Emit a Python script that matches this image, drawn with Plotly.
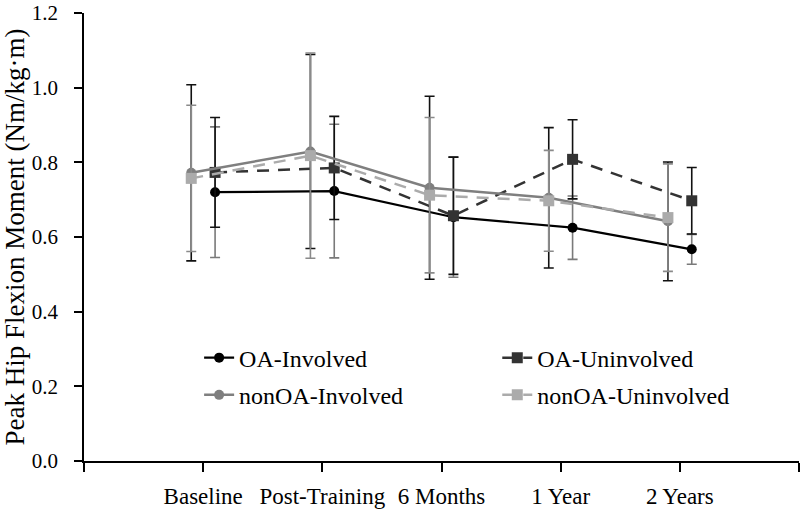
import plotly.graph_objects as go

categories = ["Baseline", "Post-Training", "6 Months", "1 Year", "2 Years"]
cat_pos = [1, 2, 3, 4, 5]

oa_inv_mean = [0.720, 0.723, 0.653, 0.625, 0.567]
oa_inv_sd = [0.175, 0.179, 0.161, 0.085, 0.040]

oa_uninv_mean = [0.773, 0.785, 0.657, 0.808, 0.697]
oa_uninv_sd = [0.147, 0.138, 0.157, 0.106, 0.089]

non_inv_mean = [0.772, 0.829, 0.732, 0.705, 0.642]
non_inv_sd = [0.236, 0.260, 0.245, 0.188, 0.159]

non_uninv_mean = [0.757, 0.818, 0.712, 0.697, 0.652]
non_uninv_sd = [0.196, 0.275, 0.208, 0.135, 0.144]

oa_offset = 0.1
non_offset = -0.1

FONT = "Liberation Serif, Times New Roman, serif"

oa_x = [p + oa_offset for p in cat_pos]
non_x = [p + non_offset for p in cat_pos]

fig = go.Figure()

def add(name, x, y, sd, color, dash, symbol, msize, ebcolor, lw, legend, group):
    fig.add_trace(go.Scatter(
        x=x, y=y, name=name, mode="lines+markers",
        line=dict(color=color, width=lw, dash=dash),
        marker=dict(symbol=symbol, size=msize, color=color),
        error_y=dict(type="data", array=sd, visible=True, color=ebcolor,
                     thickness=1.6, width=5),
        legend=legend, legendgroup=group,
    ))

add("OA-Involved", oa_x, oa_inv_mean, oa_inv_sd, "#000000", "solid",
    "circle", 10, "#7a7a7a", 2.2, "legend", "a")
add("OA-Uninvolved", oa_x, oa_uninv_mean, oa_uninv_sd, "#333333", "12px,9px",
    "square", 11, "#111111", 2.5, "legend2", "b")
add("nonOA-Involved", non_x, non_inv_mean, non_inv_sd, "#7f7f7f", "solid",
    "circle", 10, "#111111", 2.5, "legend", "c")
add("nonOA-Uninvolved", non_x, non_uninv_mean, non_uninv_sd, "#ababab", "12px,9px",
    "square", 11, "#8a8a8a", 2.5, "legend2", "d")

legend_common = dict(
    orientation="v", xanchor="left", yanchor="top",
    bgcolor="rgba(0,0,0,0)", tracegroupgap=3,
    font=dict(family=FONT, size=24, color="#000"),
)

fig.update_layout(
    width=800, height=510,
    margin=dict(l=84, r=1, t=8, b=48),
    paper_bgcolor="white", plot_bgcolor="white",
    font=dict(family=FONT, size=21, color="#000"),
    legend=dict(x=0.161, y=0.28, **legend_common),
    legend2=dict(x=0.578, y=0.28, **legend_common),
    xaxis=dict(
        range=[0, 6], tickvals=[0, 1, 2, 3, 4, 5, 6],
        ticktext=[""] + categories + [""],
        showline=True, linecolor="#000", linewidth=1.5,
        ticks="outside", ticklen=9, tickwidth=1.5, tickcolor="#000",
        showgrid=False, zeroline=False,
        ticklabelstandoff=5,
        tickfont=dict(family=FONT, size=23, color="#000"),
    ),
    yaxis=dict(
        range=[0, 1.2], tickvals=[0, 0.2, 0.4, 0.6, 0.8, 1.0, 1.2],
        tickformat=".1f",
        showline=True, linecolor="#000", linewidth=1.5,
        ticks="outside", ticklen=8, tickwidth=1.5, tickcolor="#000",
        showgrid=False, zeroline=False,
        ticklabelstandoff=12, ticklabeloverflow="allow",
        tickfont=dict(family=FONT, size=21, color="#000"),
        title=dict(text="Peak Hip Flexion Moment (Nm/kg·m)", standoff=3,
                   font=dict(family=FONT, size=27, color="#000")),
    ),
)

fig.write_html("out.html", config={"displayModeBar": False},
               post_script="document.body.style.margin='0';")
